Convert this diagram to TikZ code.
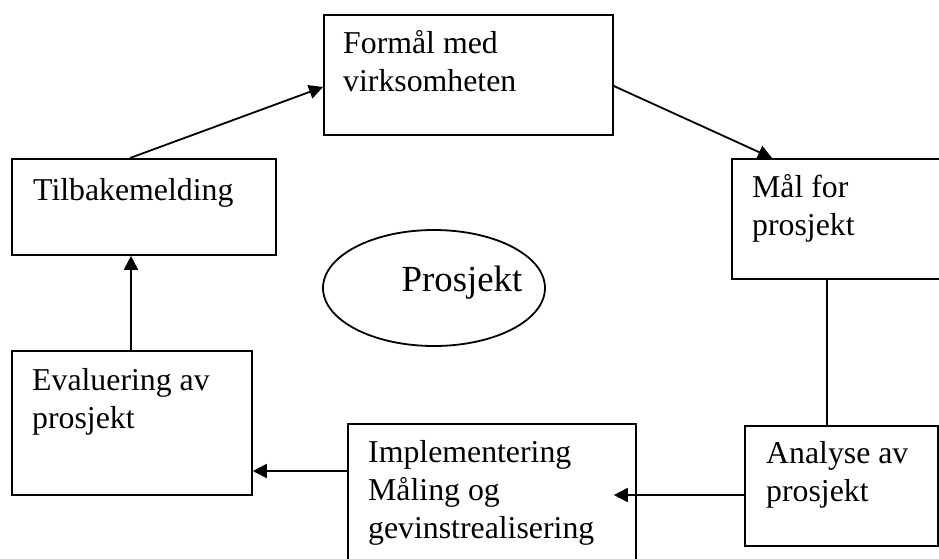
\documentclass[tikz,border=0pt]{standalone}
\usepackage{fontspec}
\setmainfont{Liberation Serif}
\usetikzlibrary{arrows.meta,calc,shapes.geometric}

\begin{document}
\begin{tikzpicture}[x=1pt,y=-1pt,
    box/.style={draw,line width=1.8pt,rectangle,inner sep=0pt,anchor=north west},
    % the base anchor of a multi-line label sits on its last line
    lbl/.style={anchor=base west,align=left,inner sep=0pt,
      font=\fontsize{31.8}{38}\selectfont},
    conn/.style={line width=1.8pt},
    arr/.style={conn,-{Triangle[length=14pt,width=14pt]}}]
  \useasboundingbox (0,0) rectangle (939,558);
  \clip (0,0) rectangle (939,558);

  % process boxes
  \node[box,minimum width=289pt,minimum height=120pt] (formaal) at (323,14) {};
  \node[box,minimum width=240pt,minimum height=120pt] (maal) at (731,158) {};
  \node[box,minimum width=193pt,minimum height=120pt] (analyse) at (744,425) {};
  \node[box,minimum width=288pt,minimum height=160pt] (impl) at (347,423) {};
  \node[box,minimum width=240pt,minimum height=144pt] (eval) at (11,350) {};
  \node[box,minimum width=264pt,minimum height=96pt] (tilbake) at (11,158) {};

  % box texts
  \node[lbl] (tformaal) at ($(formaal.north west)+(20,77)$) {Formål med\\virksomheten};
  \node[lbl] (tmaal) at ($(maal.north west)+(21,77)$) {Mål for\\prosjekt};
  \node[lbl] (tanalyse) at ($(analyse.north west)+(22,76)$) {Analyse av\\prosjekt};
  \node[lbl] (timpl) at ($(impl.north west)+(21,115)$) {Implementering\\Måling og\\gevinstrealisering};
  \node[lbl] (teval) at ($(eval.north west)+(21,78)$) {Evaluering av\\prosjekt};
  \node[lbl] (ttilbake) at ($(tilbake.north west)+(22,42)$) {Tilbakemelding};

  % centre ellipse
  \node[draw,line width=1.8pt,ellipse,minimum width=222pt,minimum height=116pt,
        inner sep=0pt] (prosjekt) at (434,288) {};
  \node[anchor=base,inner sep=0pt,font=\fontsize{36.8}{44}\selectfont]
        (tprosjekt) at ($(prosjekt.center)+(28,3)$) {Prosjekt};

  % connectors
  \draw[arr] ($(tilbake.north west)+(119,0)$) -- ($(formaal.north west)+(0,73)$);
  \draw[arr] ($(formaal.north east)+(0,72)$) -- ($(maal.north west)+(41,0)$);
  \draw[conn] ($(maal.south west)+(96,0)$) -- ($(analyse.north west)+(83,0)$);
  \draw[arr] ($(analyse.north west)+(0,70)$) -- ($(impl.north east)+(-23,72)$);
  \draw[arr] ($(impl.north west)+(0,48)$) -- ($(eval.north east)+(0,121)$);
  \draw[arr] ($(eval.north west)+(120,0)$) -- ($(tilbake.south west)+(120,0)$);
\end{tikzpicture}
\end{document}
